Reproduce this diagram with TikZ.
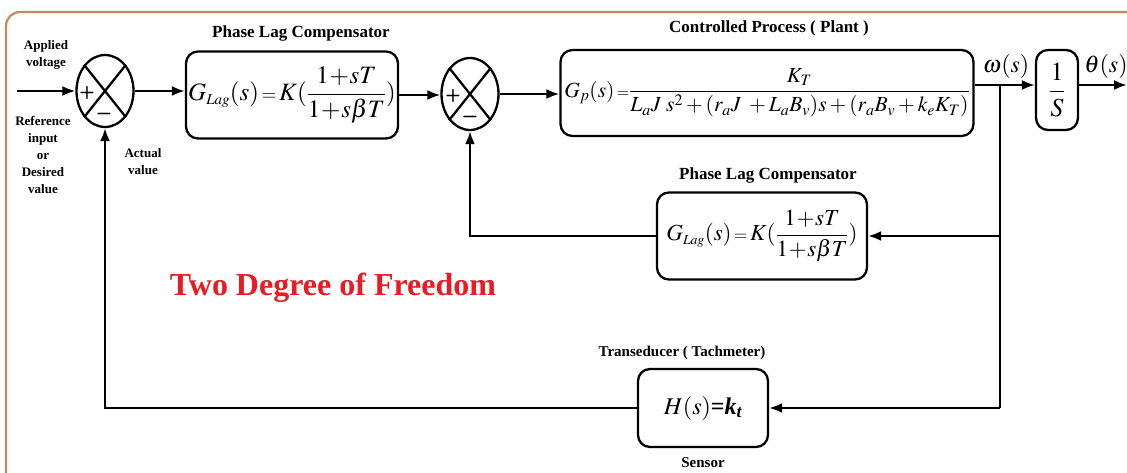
\documentclass[tikz,border=0pt]{standalone}
\usepackage{amsmath}
\usepackage{mathptmx}
\usepackage{fontspec}
\setmainfont{Liberation Serif}
\usetikzlibrary{arrows.meta,calc,shapes.geometric}
\definecolor{framec}{RGB}{196,137,98}
\definecolor{redt}{RGB}{232,28,36}
\newcommand{\lagtf}{G_{\scriptscriptstyle Lag}(s)\,{\scriptstyle=}\,K(\dfrac{1\!+\!sT}{1\!+\!s\beta T})}
\begin{document}
\begin{tikzpicture}[x=1pt,y=-1pt,
  line width=2.3pt,
  arr/.style={-{Latex[length=13pt,width=10pt]}},
  sumj/.style={draw,ellipse,minimum width=57pt,minimum height=72pt,inner sep=0pt},
  blk/.style={draw,rounded corners=12pt,inner sep=0pt},
  title/.style={font=\fontsize{17}{19}\selectfont\bfseries},
  small/.style={font=\fontsize{13}{17}\selectfont\bfseries,align=center},
  sgn/.style={font=\fontsize{18}{18}\selectfont\bfseries\sffamily}]
\useasboundingbox (0,0) rectangle (1127,473);
\clip (0,0) rectangle (1127,473);
\draw[framec,line width=2.2pt,rounded corners=14pt] (6,12) rectangle (1160,520);

% summing junctions
\node[sumj] (s1) at (105,91) {};
\draw (s1.north east) -- (s1.south west) (s1.north west) -- (s1.south east);
\node[sgn] (p1) at (87,93) {+};
\node[sgn] (m1) at (104,116) {\textminus};
\node[sumj] (s2) at (470,94) {};
\draw (s2.north east) -- (s2.south west) (s2.north west) -- (s2.south east);
\node[sgn] (p2) at (453,96) {+};
\node[sgn] (m2) at (470,119) {\textminus};

% blocks
\node[blk,minimum width=212pt,minimum height=87pt] (lag1) at (292,95)
  {\fontsize{25}{27}\selectfont$\lagtf$};
\node[title] (t1) at (301,33) {Phase Lag Compensator};
\node[blk,minimum width=413pt,minimum height=86pt] (plant) at (767,93)
  {\fontsize{21.5}{23}\selectfont$G_p(s)\,{\scriptstyle=}\dfrac{K_T}{L_aJ\;s^2+(r_aJ\;+L_aB_v)s+(r_aB_v+k_eK_T)}$};
\node[title] (t2) at (769,28) {Controlled Process ( Plant )};
\node[blk,minimum width=42pt,minimum height=80pt] (int) at (1057,90)
  {\fontsize{26}{28}\selectfont$\dfrac{1}{S}$};
\node[blk,minimum width=210pt,minimum height=87pt] (lag2) at (762,236)
  {\fontsize{23}{25}\selectfont$\lagtf$};
\node[title] (t3) at (768,175) {Phase Lag Compensator};
\node[blk,minimum width=130pt,minimum height=78pt] (H) at (703,408)
  {\fontsize{24}{26}\selectfont$H(s)${\bfseries=\itshape k\textsubscript{t}}};
\node[title,font=\fontsize{15}{17}\selectfont\bfseries] (t4) at (682,353) {Transeducer ( Tachmeter)};
\node[title,font=\fontsize{15}{17}\selectfont\bfseries] (t5) at (703,463) {Sensor};

% labels
\node[small] (lav) at (46,55) {Applied\\voltage};
\node[small] (lref) at (43,155) {Reference\\input\\or\\Desired\\value};
\node[small] (lact) at (143,162) {Actual\\value};
\node[font=\fontsize{24}{26}\selectfont] (lw) at (1006,67) {$\omega(s)$};
\node[font=\fontsize{24}{26}\selectfont] (lth) at (1106,67) {$\theta(s)$};
\node[font=\fontsize{32}{34}\selectfont\bfseries,text=redt] (tdf) at (333,288) {Two Degree of Freedom};

% connectors
\coordinate (in) at (17,91);
\coordinate (br) at (1000,85);
\coordinate (out) at (1127,85);
\draw[arr] (in) -- (s1.west);
\draw[arr] (s1.east) -- (s1.east -| lag1.west);
\draw[arr] (lag1.east) -- (lag1.east -| s2.west);
\draw[arr] (s2.east) -- (s2.east -| plant.west);
\draw[arr] (plant.east |- br) -- (int.west |- br);
\draw[arr] (int.east |- br) -- (out);
\draw (br) -- (br |- H.east);
\draw[arr] (br |- lag2.east) -- (lag2.east);
\draw[arr] (br |- H.east) -- (H.east);
\draw[arr] (lag2.west) -| (s2.south);
\draw[arr] (H.west) -| (s1.south);
\end{tikzpicture}
\end{document}
